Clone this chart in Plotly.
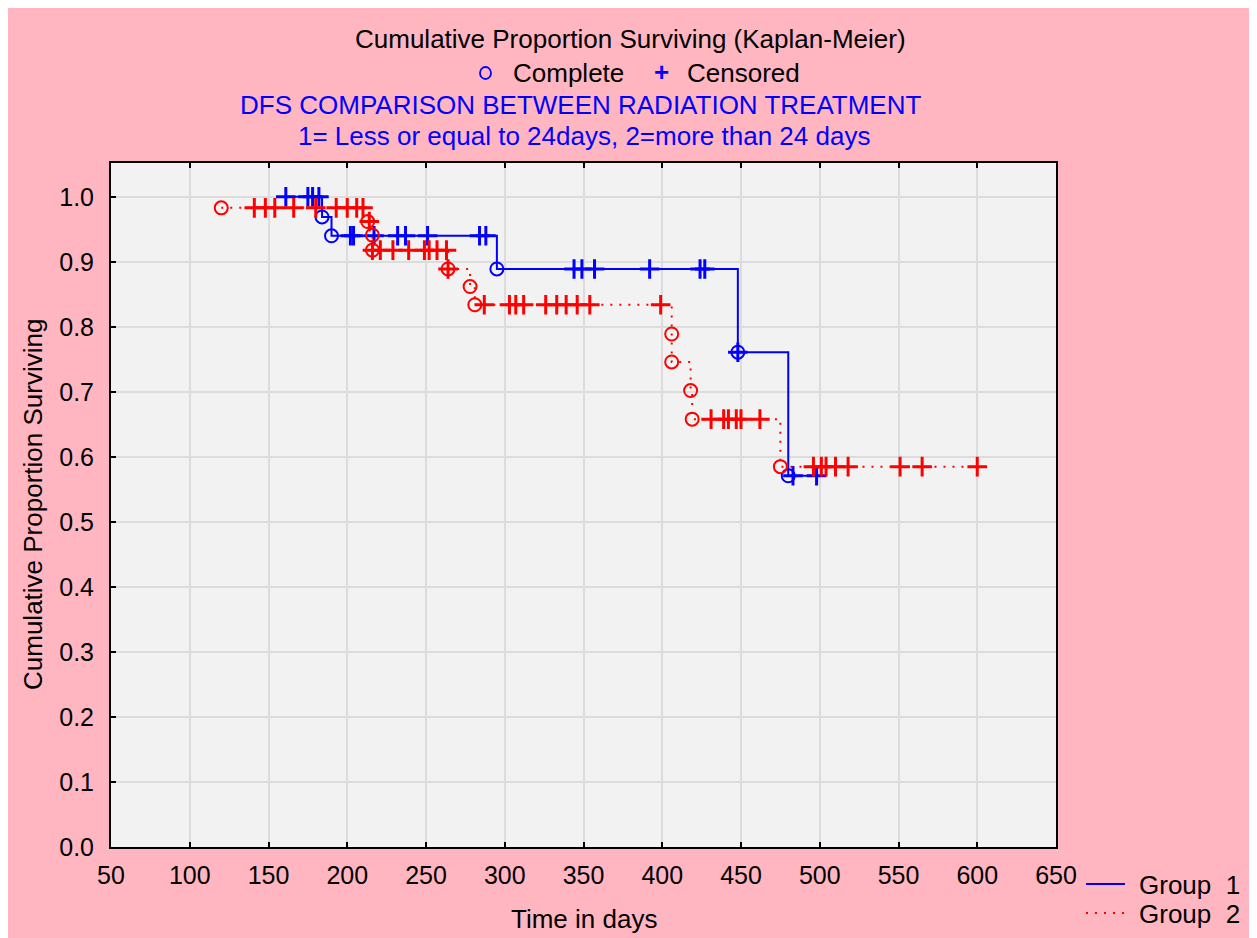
import plotly.graph_objects as go

# ---------------- data ----------------
G1_EVENT_T = [184, 190, 295, 448, 480]
G1_EVENT_S = [0.969, 0.940, 0.889, 0.761, 0.571]
G1_CENS_T = [161, 175, 178, 182, 202, 204, 217, 232, 237, 251, 284, 288,
             344, 349, 357, 392, 424, 427, 448, 483, 498]

G2_EVENT_T = [120, 213, 216, 216, 264, 278, 281, 406, 406, 418, 419, 475]
G2_EVENT_S = [0.983, 0.962, 0.941, 0.918, 0.889, 0.862, 0.834, 0.789, 0.746,
              0.702, 0.658, 0.585]
G2_CENS_T = [141, 148, 154, 166, 180, 193, 200, 206, 210, 214, 216, 221, 229,
             239, 249, 252, 257, 263, 264, 287, 303, 307, 312, 326, 333, 339,
             346, 354, 399, 431, 439, 442, 447, 450, 462, 496, 501, 504, 510,
             518, 551, 565, 600]

GROUP_NAMES = ["Group\u00a0 1", "Group\u00a0 2"]
X_TICKS = list(range(50, 651, 50))
Y_TICKS = [round(i * 0.1, 1) for i in range(11)]
RIGHT_TICKS = [0.191, 0.382, 0.573, 0.764, 0.955]

TITLE1 = "Cumulative Proportion Surviving (Kaplan-Meier)"
TITLE3 = "DFS COMPARISON BETWEEN RADIATION TREATMENT"
TITLE4 = "1= Less or equal to 24days, 2=more than 24 days"

# ---------------- layout constants ----------------
# the page places the figure 8px from the top-left corner
OFF = 8
PAGE_W, PAGE_H = 1257, 938
W, H = PAGE_W - OFF, PAGE_H - OFF
PLOT_L, PLOT_R, PLOT_T, PLOT_B = 111, 1056, 163, 847   # in page pixels
L, R, T, B = PLOT_L - OFF, PAGE_W - PLOT_R, PLOT_T - OFF, PAGE_H - PLOT_B
FONT = "Liberation Sans, Arial, sans-serif"
FS = 26
FS_TICK = 25
BLUE, RED = "#0000ff", "#ff0000"
PINK = "#ffb6c1"
DASHES = ["solid", "2px,7px"]
COLORS = [BLUE, RED]


def px_x(p):
    return (p - PLOT_L) / (PLOT_R - PLOT_L)


def px_y(p):
    return (PLOT_B - p) / (PLOT_B - PLOT_T)


def surv(t, ev_t, ev_s):
    s = 1.0
    for et, es in zip(ev_t, ev_s):
        if et <= t:
            s = es
    return s


def curve(ev_t, ev_s, cens_t):
    all_t = ev_t + cens_t
    t0, t1 = min(all_t), max(all_t)
    xs = [t0] + ev_t + [t1]
    ys = [surv(t0, ev_t, ev_s)] + ev_s + [surv(t1, ev_t, ev_s)]
    return xs, ys


fig = go.Figure()

groups = [
    (G1_EVENT_T, G1_EVENT_S, G1_CENS_T, COLORS[0], DASHES[0], GROUP_NAMES[0]),
    (G2_EVENT_T, G2_EVENT_S, G2_CENS_T, COLORS[1], DASHES[1], GROUP_NAMES[1]),
]

for ev_t, ev_s, cens_t, col, dash, name in groups:
    xs, ys = curve(ev_t, ev_s, cens_t)
    fig.add_trace(go.Scatter(
        x=xs, y=ys, mode="lines", line=dict(color=col, width=2, dash=dash, shape="hv"),
        name=name, showlegend=False, hoverinfo="skip"))
    fig.add_trace(go.Scatter(
        x=ev_t, y=ev_s, mode="markers", showlegend=False, name=name + " complete",
        marker=dict(symbol="circle-open", size=13, color=col, line=dict(color=col, width=2))))
    fig.add_trace(go.Scatter(
        x=cens_t, y=[surv(t, ev_t, ev_s) for t in cens_t], mode="markers",
        showlegend=False, name=name + " censored",
        marker=dict(symbol="cross-thin-open", size=14, color=col, line=dict(color=col, width=3))))

axis_common = dict(
    showline=True, linecolor="black", linewidth=2,
    ticks="inside", ticklen=5, tickcolor="black", tickwidth=1.5,
    showgrid=True, gridcolor="#dcdcdc", gridwidth=1.5, zeroline=False,
    tickfont=dict(family=FONT, size=FS_TICK, color="black"),
)

fig.update_layout(
    width=W, height=H,
    margin=dict(l=L, r=R, t=T, b=B, autoexpand=False),
    paper_bgcolor=PINK, plot_bgcolor="#f2f2f2",
    font=dict(family=FONT, size=FS, color="black"),
    xaxis=dict(range=[50, 650], tickvals=X_TICKS, mirror="ticks",
               ticklabelstandoff=5, **axis_common),
    yaxis=dict(range=[0, 1.052], tickvals=Y_TICKS, tickformat=".1f", mirror=True,
               ticklabelstandoff=10, **axis_common),
    yaxis2=dict(overlaying="y", side="right", range=[0, 1.052], tickvals=RIGHT_TICKS,
                showticklabels=False, ticks="inside", ticklen=5, tickcolor="black",
                tickwidth=1.5, showgrid=False, zeroline=False, showline=False),
    showlegend=False,
)

ann = [
    dict(text=TITLE1, x=px_x(630.5), y=px_y(39), color="black", xanchor="center"),
    dict(text="Complete", x=px_x(511), y=px_y(73), color="black", xanchor="left"),
    dict(text="<b>+</b>", x=px_x(661), y=px_y(72), color=BLUE, xanchor="center"),
    dict(text="Censored", x=px_x(685), y=px_y(73), color="black", xanchor="left"),
    dict(text=TITLE3, x=px_x(580), y=px_y(105), color=BLUE, xanchor="center"),
    dict(text=TITLE4, x=px_x(583.5), y=px_y(136), color=BLUE, xanchor="center"),
    dict(text="Time in days", x=px_x(584), y=px_y(919), color="black", xanchor="center"),
    dict(text=GROUP_NAMES[0], x=px_x(1137), y=px_y(885), color="black", xanchor="left"),
    dict(text=GROUP_NAMES[1], x=px_x(1137), y=px_y(914), color="black", xanchor="left"),
]
for a in ann:
    fig.add_annotation(text=a["text"], x=a["x"], y=a["y"], xref="paper", yref="paper",
                       xanchor=a["xanchor"], yanchor="middle", showarrow=False,
                       font=dict(family=FONT, size=FS, color=a["color"]))
fig.add_annotation(text="Cumulative Proportion Surviving", x=px_x(33), y=px_y(505),
                   xref="paper", yref="paper", textangle=-90, showarrow=False,
                   xanchor="center", yanchor="middle",
                   font=dict(family=FONT, size=FS, color="black"))

# legend key lines
for i, ypx in enumerate([884, 913]):
    fig.add_shape(type="line", xref="paper", yref="paper",
                  x0=px_x(1086), x1=px_x(1125), y0=px_y(ypx), y1=px_y(ypx),
                  line=dict(color=COLORS[i], width=2, dash=DASHES[i]))

# small blue circle of the header key
fig.add_shape(type="circle", xref="paper", yref="paper",
              x0=px_x(480), x1=px_x(491), y0=px_y(79), y1=px_y(67),
              line=dict(color=BLUE, width=1.8))

fig.write_html("out.html")
